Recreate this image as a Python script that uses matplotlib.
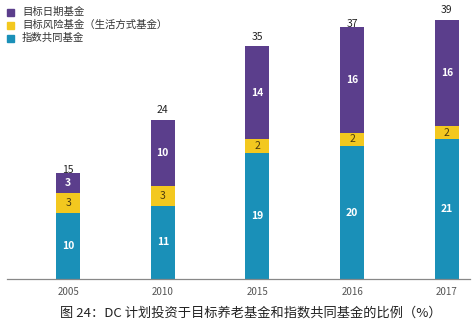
import matplotlib
matplotlib.use("Agg")
import matplotlib.pyplot as plt
import numpy as np

plt.rcParams['font.family'] = ['Noto Sans CJK SC', 'DejaVu Sans']

years = ["2005", "2010", "2015", "2016", "2017"]
index_funds = [10, 11, 19, 20, 21]
target_risk = [3, 3, 2, 2, 2]
target_date = [3, 10, 14, 16, 16]
totals = [15, 24, 35, 37, 39]

series_names = ["目标日期基金", "目标风险基金（生活方式基金）", "指数共同基金"]
c_date = "#5b3e8c"
c_risk = "#f3c81f"
c_index = "#1a90b8"

caption = "图 24：DC 计划投资于目标养老基金和指数共同基金的比例（%）"

fig = plt.figure(figsize=(4.76, 3.24), dpi=100)
ax = fig.add_axes([0.015, 0.139, 0.972, 0.861])

x = np.arange(len(years))
w = 0.253
idx = np.array(index_funds)
risk = np.array(target_risk)
date = np.array(target_date)

ax.bar(x, idx, w, color=c_index)
ax.bar(x, risk, w, bottom=idx, color=c_risk)
ax.bar(x, date, w, bottom=idx + risk, color=c_date)

for i in range(len(years)):
    ax.text(x[i], idx[i] / 2, str(index_funds[i]), ha='center', va='center',
            color='white', fontsize=7.5, fontweight='bold')
    ax.text(x[i], idx[i] + risk[i] / 2, str(target_risk[i]), ha='center', va='center',
            color='#4a3a10', fontsize=7.5)
    ax.text(x[i], idx[i] + risk[i] + date[i] / 2, str(target_date[i]), ha='center',
            va='center', color='white', fontsize=7.5, fontweight='bold')
    ax.text(x[i], totals[i] + 0.7, str(totals[i]), ha='center', va='bottom',
            color='#222222', fontsize=7.5)

ax.set_xlim(-0.644, 4.243)
ax.set_ylim(0, 42.0)
for s in ['top', 'right', 'left']:
    ax.spines[s].set_visible(False)
ax.spines['bottom'].set_color('#888888')
ax.spines['bottom'].set_linewidth(0.9)
ax.set_yticks([])
ax.set_xticks(x)
ax.set_xticklabels(years, fontsize=7, color='#555555')
ax.tick_params(axis='x', length=0, pad=6)

# legend
leg_colors = [c_date, c_risk, c_index]
for k, (name, col) in enumerate(zip(series_names, leg_colors)):
    yy = 1 - (12 + 13 * k) / 324
    fig.patches.append(plt.Rectangle((7 / 476, yy - 3.5 / 324), 7 / 476, 7 / 324,
                                     transform=fig.transFigure, color=col))
    fig.text(22 / 476, yy, name, fontsize=7.5, color='#333333', va='center', ha='left')

fig.text(251 / 476, 1 - 313 / 324, caption, fontsize=9.5, color='#222222',
         ha='center', va='center')

fig.savefig("out.png", dpi=100)
